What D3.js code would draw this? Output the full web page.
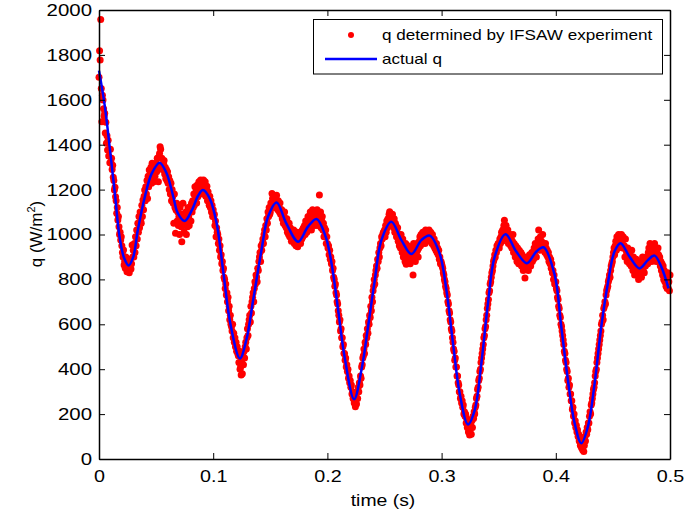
<!DOCTYPE html>
<html>
<head>
<meta charset="utf-8">
<script src="https://cdn.jsdelivr.net/npm/d3@7"></script>
<style>
body { margin: 0; background: #fff; }
svg { display: block; font-family: "Liberation Sans", Arial, sans-serif; }
</style>
</head>
<body>
<svg width="697" height="516"></svg>
<script>
// actual q (blue line)
const actualT = [0, 0.005, 0.010, 0.014, 0.018, 0.022, 0.026, 0.030, 0.034, 0.040, 0.046, 0.053, 0.059, 0.065, 0.069, 0.075,
  0.081, 0.087, 0.091, 0.097, 0.103, 0.109, 0.115, 0.1234, 0.129, 0.135, 0.1423, 0.148, 0.1555, 0.164, 0.1744, 0.183, 0.1905,
  0.1985, 0.2036, 0.2094, 0.215, 0.2234, 0.2298, 0.2356, 0.2415, 0.2473, 0.256, 0.2648, 0.2736, 0.2823, 0.2896, 0.2983,
  0.3042, 0.310, 0.3158, 0.3231, 0.329, 0.3348, 0.3406, 0.3465, 0.356, 0.3654, 0.3747, 0.383, 0.3893, 0.399, 0.4048, 0.4106,
  0.4165, 0.4223, 0.4281, 0.434, 0.4398, 0.4456, 0.4514, 0.4567, 0.4646, 0.4733, 0.4806, 0.4864, 0.4923, 0.4987];
const actualQ = [1730, 1575, 1360, 1176, 990, 895, 862, 900, 1020, 1165, 1270, 1320, 1275, 1170, 1095, 1060,
  1105, 1175, 1198, 1160, 1050, 827, 604, 448, 530, 708, 931, 1079, 1143, 1050, 968, 1035, 1069,
  990, 872, 664, 456, 266, 396, 589, 797, 975, 1057, 975, 913, 975, 995, 915,
  753, 515, 293, 154, 218, 426, 693, 901, 1001, 924, 872, 924, 943, 820, 589, 352,
  159, 70, 144, 337, 589, 783, 924, 961, 901, 849, 886, 906, 857, 760];

// q determined by IFSAW experiment, one sample every 0.5 ms from t = 0 (one row = 10 ms)
const expStep = 0.0005;
const expQ = [
  1700, 1819, 1777, 1958, 1650, 1502, 1620, 1599, 1560, 1528, 1540, 1452, 1500, 1407, 1440, 1376, 1420, 1350, 1380, 1320,
  1380, 1320, 1340, 1290, 1309, 1255, 1240, 1198, 1210, 1168, 1150, 1095, 1120, 1065, 1080, 1035, 1000, 1010, 975, 990,
  950, 920, 900, 931, 864, 880, 850, 900, 860, 834, 870, 846, 880, 830, 860, 890, 846, 870, 953, 900,
  930, 900, 960, 920, 990, 950, 1020, 980, 1050, 1010, 1080, 1030, 1100, 1060, 1050, 1130, 1080, 1154, 1110, 1170,
  1198, 1150, 1213, 1180, 1240, 1160, 1260, 1213, 1287, 1230, 1270, 1300, 1228, 1317, 1250, 1290, 1235, 1310, 1260, 1300,
  1317, 1280, 1340, 1300, 1235, 1346, 1361, 1391, 1380, 1310, 1340, 1290, 1302, 1317, 1330, 1270, 1300, 1250, 1290, 1240,
  1280, 1228, 1257, 1200, 1240, 1180, 1228, 1150, 1200, 1168, 1139, 1050, 1180, 1120, 1006, 1109, 1139, 1060, 1100, 1040,
  1080, 1000, 1120, 1050, 1035, 968, 1090, 1139, 1060, 1010, 1080, 1040, 1100, 1000, 1060, 1035, 1120, 1080, 1040, 1109,
  1109, 1060, 1139, 1100, 1150, 1120, 1180, 1130, 1213, 1160, 1190, 1140, 1220, 1168, 1200, 1235, 1180, 1213, 1243, 1190,
  1198, 1230, 1180, 1243, 1210, 1190, 1235, 1170, 1200, 1215, 1150, 1190, 1160, 1130, 1170, 1120, 1150, 1100, 1130, 1080,
  1110, 1080, 1090, 1040, 1060, 990, 1030, 1010, 1000, 960, 980, 930, 950, 900, 910, 870, 880, 840, 850, 810,
  800, 760, 780, 730, 740, 700, 720, 660, 680, 620, 640, 600, 590, 570, 600, 540, 560, 520, 540, 500,
  520, 480, 500, 470, 460, 430, 480, 400, 410, 374, 440, 380, 460, 420, 480, 450, 500, 520, 490, 540,
  580, 550, 600, 620, 640, 610, 680, 650, 700, 720, 740, 700, 760, 790, 780, 820, 810, 790, 850, 840,
  880, 900, 920, 880, 950, 930, 960, 980, 960, 1000, 1020, 990, 1040, 1020, 1070, 1050, 1100, 1080, 1120, 1090,
  1100, 1140, 1120, 1183, 1160, 1130, 1170, 1150, 1120, 1160, 1140, 1175, 1130, 1110, 1150, 1120, 1100, 1140, 1090, 1110,
  1110, 1070, 1090, 1050, 1080, 1100, 1040, 1060, 1030, 1070, 1010, 1040, 1000, 1050, 990, 1030, 1010, 970, 1020, 990,
  980, 1020, 960, 990, 1000, 950, 970, 1010, 945, 980, 960, 990, 1000, 960, 1010, 980, 1020, 990, 1030, 1000,
  1040, 1000, 1060, 1020, 1010, 1050, 1080, 1030, 1070, 1040, 1100, 1060, 1020, 1080, 1110, 1050, 1090, 1070, 1040, 1100,
  1080, 1060, 1110, 1040, 1090, 1070, 1176, 1050, 1100, 1030, 1060, 1080, 1020, 1050, 990, 1030, 1000, 1020, 960, 990,
  960, 940, 950, 910, 930, 890, 900, 870, 880, 840, 850, 810, 800, 770, 780, 740, 730, 700, 690, 660,
  640, 610, 620, 570, 580, 540, 540, 500, 510, 470, 470, 440, 450, 410, 420, 390, 400, 360, 370, 340,
  350, 320, 330, 290, 300, 270, 290, 250, 260, 233, 280, 245, 300, 270, 320, 300, 340, 330, 370, 360,
  410, 420, 450, 460, 490, 470, 520, 510, 550, 540, 580, 560, 610, 600, 640, 630, 680, 660, 720, 700,
  750, 770, 800, 780, 820, 840, 860, 850, 890, 880, 920, 900, 940, 960, 950, 990, 980, 1000, 1010, 990,
  1020, 990, 1040, 1010, 1060, 1030, 1070, 1050, 1090, 1101, 1060, 1080, 1040, 1070, 1090, 1050, 1030, 1070, 1010, 1050,
  1040, 990, 1010, 1030, 970, 1000, 950, 990, 940, 1000, 960, 920, 980, 900, 950, 930, 880, 960, 868, 920,
  900, 950, 880, 930, 910, 870, 940, 900, 890, 920, 820, 960, 900, 930, 880, 950, 920, 960, 930, 900,
  940, 970, 990, 950, 1000, 970, 960, 1010, 980, 1000, 990, 960, 1020, 990, 970, 1000, 1010, 980, 1020, 1000,
  990, 1010, 980, 960, 1000, 970, 950, 980, 940, 960, 930, 960, 920, 940, 910, 930, 890, 900, 870, 880,
  870, 860, 850, 830, 820, 800, 790, 770, 760, 740, 730, 700, 690, 660, 650, 620, 610, 580, 570, 540,
  520, 490, 480, 440, 450, 410, 410, 370, 370, 340, 330, 300, 300, 270, 280, 250, 260, 230, 240, 200,
  210, 190, 200, 160, 180, 140, 150, 120, 160, 107, 130, 150, 110, 170, 140, 190, 180, 210, 200, 230,
  240, 270, 280, 310, 320, 350, 360, 390, 400, 430, 450, 470, 490, 510, 540, 550, 580, 590, 620, 640,
  670, 690, 710, 740, 750, 780, 790, 810, 830, 840, 860, 880, 890, 910, 900, 930, 920, 950, 940, 960,
  960, 940, 980, 960, 990, 1010, 970, 1020, 1000, 1040, 1064, 1020, 990, 1040, 1000, 980, 1020, 960, 1000, 980,
  1000, 950, 980, 940, 970, 1000, 920, 960, 930, 900, 950, 920, 880, 940, 910, 870, 930, 900, 880, 920,
  860, 910, 880, 840, 900, 860, 806, 870, 890, 850, 880, 900, 840, 870, 910, 880, 860, 900, 920, 880,
  920, 890, 940, 910, 960, 930, 900, 950, 940, 980, 1020, 960, 930, 990, 950, 970, 940, 1000, 960, 930,
  950, 920, 960, 940, 910, 930, 900, 920, 880, 900, 870, 890, 850, 870, 830, 840, 800, 820, 780, 790,
  790, 760, 750, 720, 710, 680, 670, 640, 630, 600, 590, 570, 550, 530, 510, 480, 470, 440, 430, 400,
  390, 350, 360, 320, 330, 290, 290, 260, 260, 220, 230, 190, 200, 160, 170, 140, 150, 120, 130, 100,
  110, 80, 100, 60, 70, 50, 80, 40, 90, 33, 60, 100, 80, 120, 110, 140, 130, 160, 160, 190,
  210, 200, 240, 250, 270, 290, 310, 320, 340, 370, 390, 400, 430, 450, 470, 490, 510, 530, 550, 570,
  600, 610, 640, 620, 670, 680, 700, 690, 730, 750, 760, 770, 790, 800, 820, 810, 840, 860, 870, 880,
  900, 920, 940, 910, 950, 970, 930, 990, 960, 940, 1000, 970, 950, 990, 980, 1000, 960, 940, 990, 950,
  950, 900, 980, 930, 910, 880, 940, 900, 920, 870, 910, 890, 860, 930, 880, 840, 900, 870, 820, 880,
  850, 890, 820, 870, 840, 800, 860, 830, 880, 850, 810, 870, 900, 840, 860, 830, 890, 860, 900, 870,
  900, 870, 920, 940, 890, 960, 910, 930, 880, 950, 920, 900, 940, 960, 910, 930, 880, 920, 900, 940,
  910, 880, 900, 860, 880, 840, 870, 820, 860, 800, 840, 790, 820, 770, 800, 760, 830, 760, 790, 750,
  820];

const xTicks = [0, 0.1, 0.2, 0.3, 0.4, 0.5];
const yTicks = [0, 200, 400, 600, 800, 1000, 1200, 1400, 1600, 1800, 2000];
const legendLabels = ["q determined by IFSAW experiment", "actual q"];

let plotLeft = 99, plotRight = 670, plotTop = 10, plotBottom = 459;

const svg = d3.select("svg");

const x = d3.scaleLinear().domain([0, 0.5]).range([plotLeft, plotRight]);
const y = d3.scaleLinear().domain([0, 2000]).range([plotBottom, plotTop]);

// the exported figure has slightly wide text, so stretch glyphs a bit
function stretch(sel, k) {
    sel.each(function () {
        const w = this.getComputedTextLength();
        d3.select(this).attr("textLength", w * k).attr("lengthAdjust", "spacingAndGlyphs");
    });
}

// experiment dots
svg.append("g").selectAll("circle")
    .data(expQ)
    .enter().append("circle")
        .attr("cx", (d, i) => x(i * expStep))
        .attr("cy", d => y(d))
        .attr("r", 3.5)
        .attr("fill", "#ff0000");

// actual q line
const line = d3.line()
    .x(i => x(actualT[i]))
    .y(i => y(actualQ[i]))
    .curve(d3.curveCatmullRom.alpha(0.5));

svg.append("path")
    .datum(d3.range(actualT.length))
    .attr("d", line)
    .attr("fill", "none")
    .attr("stroke", "#0000ff")
    .attr("stroke-width", 2.5);

// legend
const lg = svg.append("g");
lg.append("rect")
    .attr("x", 313.5).attr("y", 19.5)
    .attr("width", 349).attr("height", 54.5)
    .attr("fill", "#fff").attr("stroke", "#000").attr("stroke-width", 1);
lg.append("circle").attr("cx", 351).attr("cy", 35).attr("r", 3).attr("fill", "#ff0000");
lg.append("line")
    .attr("x1", 325).attr("x2", 377).attr("y1", 59).attr("y2", 59)
    .attr("stroke", "#0000ff").attr("stroke-width", 2.5);
lg.selectAll("text")
    .data(legendLabels)
    .enter().append("text")
        .attr("x", 382)
        .attr("y", (d, i) => 40 + i * 24)
        .attr("font-size", "15px")
        .text(d => d)
        .call(stretch, 1.14);

// axes, matlab box with ticks inside
function styleAxis(g) {
    g.select(".domain").attr("stroke-width", 1.5);
    g.selectAll(".tick line").attr("stroke-width", 1);
}

const xAxis = svg.append("g")
    .attr("transform", `translate(0, ${plotBottom})`)
    .call(d3.axisBottom(x).tickValues(xTicks).tickSizeInner(-6).tickSizeOuter(0).tickPadding(11).tickFormat(d => String(d)))
    .call(styleAxis);
xAxis.selectAll("text").attr("font-size", "17px").attr("font-family", null).attr("fill", "#000").call(stretch, 1.16);

const yAxis = svg.append("g")
    .attr("transform", `translate(${plotLeft}, 0)`)
    .call(d3.axisLeft(y).tickValues(yTicks).tickSizeInner(-6).tickSizeOuter(0).tickPadding(7).tickFormat(d => String(d)))
    .call(styleAxis);
yAxis.selectAll("text").attr("font-size", "17px").attr("font-family", null).attr("fill", "#000").call(stretch, 1.2);

svg.append("g")
    .attr("transform", `translate(0, ${plotTop})`)
    .call(d3.axisTop(x).tickValues(xTicks).tickSizeInner(-6).tickSizeOuter(0).tickFormat(""))
    .call(styleAxis);

svg.append("g")
    .attr("transform", `translate(${plotRight}, 0)`)
    .call(d3.axisRight(y).tickValues(yTicks).tickSizeInner(-6).tickSizeOuter(0).tickFormat(""))
    .call(styleAxis);

// axis labels
svg.append("text")
    .attr("x", 383)
    .attr("y", 506)
    .attr("font-size", "17px")
    .attr("text-anchor", "middle")
    .text("time (s)")
    .call(stretch, 1.14);

const yLabel = svg.append("text")
    .attr("transform", `translate(42, 234) rotate(-90)`)
    .attr("font-size", "17px")
    .attr("text-anchor", "middle");
yLabel.append("tspan").text("q (W/m");
yLabel.append("tspan").attr("font-size", "11px").attr("dy", "-7").text("2");
yLabel.append("tspan").attr("dy", "7").text(")");
</script>
</body>
</html>
